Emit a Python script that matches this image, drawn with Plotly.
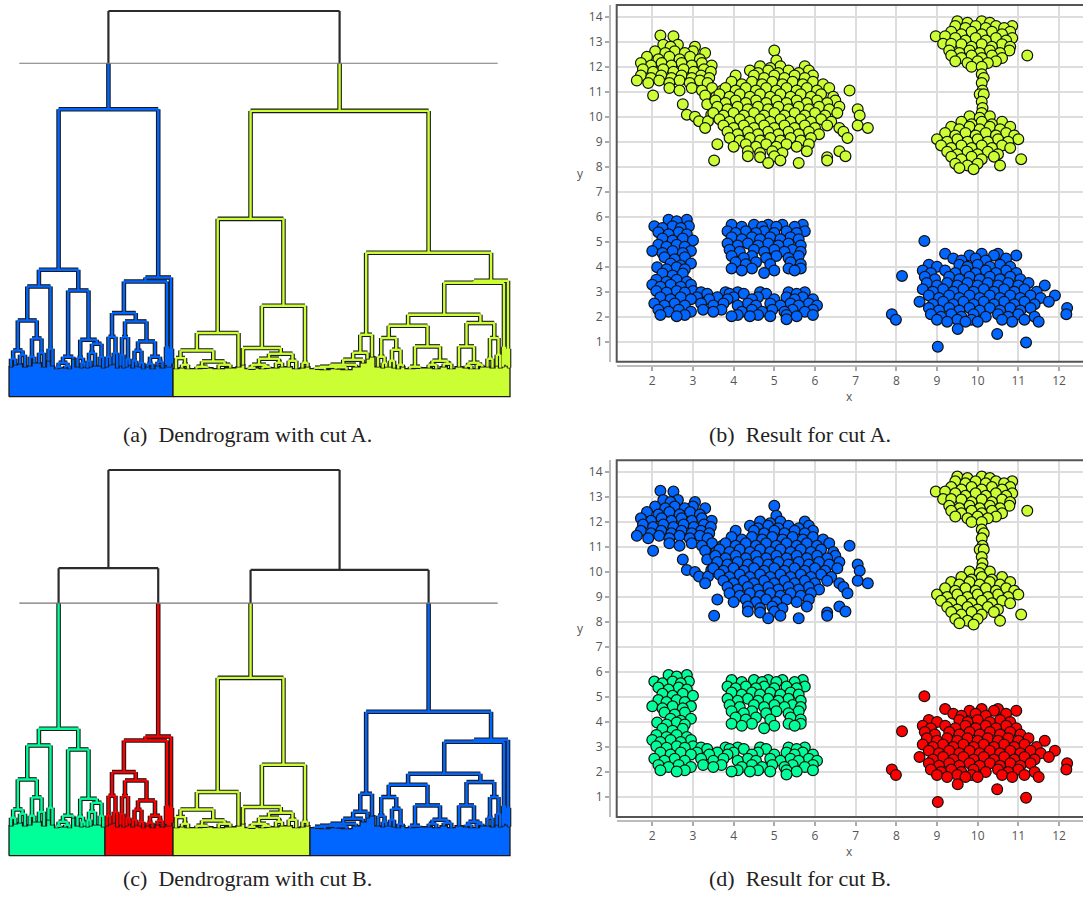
import plotly.graph_objects as go

W, H = 1083, 904

# ---------------- colours / cuts ----------------
BLUE = "#0066FF"
YELLOW = "#CCFF33"
GREEN = "#00FF99"
RED = "#FF0000"

CUT_A = 333.7
CUT_B = 252.7
PALETTE_A = [BLUE, YELLOW]
PALETTE_B = [GREEN, RED, YELLOW, BLUE]


# ---------------- dendrogram data ----------------
# node = ("n", merge height, left, right) ; leaf group = ("l", observation count, top height)
def N(h, a, b):
    return ("n", h, a, b)


def L(c, h):
    return ("l", c, h)


ROOT_HEIGHT = 386.0
LEFT_HEIGHT = 287.7
RIGHT_HEIGHT = 286.0

GREEN_TREE = N(127,
               N(110.3,
                 N(76.3,
                   N(46.3, N(38, L(8, 30), L(9, 32)), N(42, L(10, 33), L(10, 30))),
                   N(58.3, N(40, L(9, 31), L(9, 34)), N(44, L(10, 34), L(10, 30)))),
                 N(48, L(8, 36), L(8, 31))),
               N(106.3,
                 N(40, N(34, N(30, L(8, 28), L(9, 29)), N(31, L(9, 29), L(8, 28))), L(7, 38)),
                 N(57,
                   N(39, L(10, 30), N(34, L(6, 29), L(6, 30))),
                   N(53, N(44, N(36, L(6, 29), L(6, 30)), L(12, 31)), N(40, L(7, 31), L(7, 29))))))

RED_TREE = N(119.3,
             N(115.3,
               N(83.7,
                 N(60, N(40, L(7, 30), L(7, 32)), N(44, L(7, 33), L(7, 29))),
                 N(75.3,
                   N(59.7, N(42, L(6, 31), L(6, 29)), N(38, L(6, 30), L(6, 32))),
                   N(55.3,
                     N(46, N(36, L(7, 29), L(7, 31)), N(34, L(7, 30), L(7, 28))),
                     N(40, N(33, L(10, 30), L(10, 28)), N(35, L(10, 31), L(10, 29)))))),
               N(50, L(4, 32), L(4, 30))),
             N(48, L(4, 30), L(4, 33)))

YELLOW_TREE = N(178,
                N(63.7,
                  N(46.3,
                    N(38.7, L(12, 28), N(32, L(12, 29), L(12, 28))),
                    N(35.3, N(30, L(22, 28), L(22, 29)), N(32, L(23, 28), L(23, 29)))),
                  L(10, 30)),
                N(91,
                  N(48.7, L(8, 32),
                    N(43,
                      N(38,
                        N(32, N(29, L(14, 28), L(14, 29)), N(30, L(14, 28), L(14, 29))),
                        N(34, L(12, 29), L(12, 30))),
                      N(36, L(15, 30), L(15, 28)))),
                  N(34, L(10, 29), L(10, 30))))

BLUE_TREE = N(144,
              N(62,
                N(44, N(37, N(32, N(30, N(29, L(20, 28), L(20, 27)), N(29.5, L(22, 28), L(22, 27))),
                                  L(16, 30)), L(12, 34)), L(6, 38)),
                L(12, 40)),
              N(116,
                N(114,
                  N(82,
                    N(71,
                      N(58.7,
                        N(40, L(12, 30), N(34, L(7, 29), L(7, 30))),
                        N(47, N(36, L(8, 30), L(8, 29)), N(32, L(9, 28), L(9, 30)))),
                      N(50.3,
                        N(30, L(20, 28), L(20, 29)),
                        N(36, N(32, L(15, 29), L(15, 28)), N(33, L(15, 30), L(15, 28))))),
                    N(73.7,
                      N(50.3, L(16, 30), N(34, N(31, L(11, 29), L(11, 28)), N(32, L(11, 28), L(11, 30)))),
                      N(58.7, N(38, L(10, 30), L(10, 29)), N(42, L(7, 31), L(7, 29))))),
                  N(50, L(4, 30), L(4, 32))),
                N(48, L(4, 31), L(4, 29))))

# ---------------- scatter data (rows: y, list of x) ----------------
TL_ROWS = [
    # small upper-left lobe
    (13.25, [2.2]), (13.22, [2.52]), (12.88, [2.27, 2.63]), (12.8, [2.45, 3.05]),
    (12.62, [2.07, 2.55, 3.0]), (12.55, [2.32, 2.8, 3.3]), (12.4, [1.87, 2.42, 2.93]),
    (12.3, [2.15, 2.67, 3.17]), (12.15, [1.72, 2.23, 2.72, 3.22]), (12.05, [1.97, 2.47, 2.97, 3.46]),
    (11.9, [1.77, 2.27, 2.77, 3.27]), (11.8, [2.02, 2.52, 3.02, 3.44]),
    (11.65, [1.72, 2.22, 2.72, 3.2]), (11.55, [1.97, 2.47, 2.97, 3.4]),
    (11.45, [1.62, 2.17, 2.67, 3.17]), (11.35, [1.9, 2.42, 2.92, 3.36]),
    (11.15, [2.42, 2.97, 3.47]), (11.05, [2.67, 3.22, 3.72]), (10.85, [2.02, 3.3]), (10.8, [3.57]),
    (10.5, [2.75, 3.35]), (10.08, [2.85, 3.45]), (10.0, [3.05]), (9.82, [3.15, 3.37]), (9.55, [3.3]),
    # large lobe
    (12.65, [5.0]), (12.25, [5.05]), (12.02, [4.65, 5.15, 5.75]), (11.95, [4.9]),
    (11.85, [4.4, 4.85, 5.35, 5.85]), (11.75, [4.6, 5.1, 5.6]),
    (11.65, [4.05, 4.5, 5.0, 5.5, 5.95]), (11.55, [4.75, 5.25, 5.75]),
    (11.4, [3.95, 4.45, 4.95, 5.45, 5.95]), (11.3, [4.2, 4.7, 5.2, 5.7, 6.2]),
    (11.15, [3.8, 4.3, 4.8, 5.3, 5.8, 6.35]), (11.05, [4.05, 4.55, 5.05, 5.55, 6.05, 6.85]),
    (10.9, [3.65, 4.15, 4.65, 5.15, 5.65, 6.15]), (10.8, [3.9, 4.4, 4.9, 5.4, 5.9, 6.45]),
    (10.65, [3.55, 4.05, 4.55, 5.05, 5.55, 6.05, 6.5]), (10.55, [3.8, 4.3, 4.8, 5.3, 5.8, 6.3]),
    (10.4, [3.6, 4.1, 4.6, 5.1, 5.6, 6.1, 6.6]), (10.3, [3.85, 4.35, 4.85, 5.35, 5.85, 6.35, 7.05]),
    (10.15, [3.5, 4.0, 4.5, 5.0, 5.5, 6.0, 6.55]), (10.05, [3.75, 4.25, 4.75, 5.25, 5.75, 6.25, 7.1]),
    (9.9, [3.65, 4.15, 4.65, 5.15, 5.65, 6.15]), (9.8, [3.9, 4.4, 4.9, 5.4, 5.9, 6.4]),
    (9.65, [3.75, 4.25, 4.75, 5.25, 5.75, 6.3, 7.05]), (9.55, [4.0, 4.5, 5.0, 5.5, 6.0, 6.6, 7.3]),
    (9.4, [3.85, 4.35, 4.85, 5.35, 5.85, 6.7]), (9.3, [4.1, 4.6, 5.1, 5.6, 6.1]),
    (9.15, [3.9, 4.4, 4.9, 5.4, 5.9, 6.8]), (9.05, [4.15, 4.65, 5.15, 5.65]),
    (8.9, [3.6, 4.3, 4.8, 5.3, 5.85]), (8.8, [4.0, 4.55, 5.05, 5.55]),
    (8.62, [4.35, 4.95, 5.8, 6.6]), (8.55, [4.65, 5.2]), (8.42, [4.35, 5.0, 6.75]),
    (8.38, [4.65, 6.3]), (8.25, [3.52, 5.15, 6.3]), (8.15, [4.85, 5.6]),
]

TR_ROWS = [
    (13.82, [9.5, 10.1]), (13.76, [9.75, 10.3]), (13.63, [9.45, 9.95, 10.45, 10.85]),
    (13.55, [9.7, 10.2, 10.65]), (13.4, [9.35, 9.85, 10.35, 10.8]), (13.3, [9.6, 10.1, 10.6]),
    (13.22, [8.97, 9.2]), (13.15, [9.45, 9.95, 10.45, 10.85]), (13.05, [9.7, 10.2, 10.7]),
    (12.92, [9.15, 9.35]), (12.9, [9.6, 10.1, 10.6]), (12.8, [9.85, 10.35, 10.8]),
    (12.65, [9.3, 9.8, 10.3, 10.78]), (12.55, [9.55, 10.05, 10.55]),
    (12.45, [9.35, 9.85, 10.35, 11.22]), (12.35, [9.6, 10.1, 10.6]),
    (12.22, [9.45, 10.0, 10.45]), (12.15, [9.75, 10.25]), (12.0, [9.85, 10.1]),
    (11.7, [10.1]), (11.55, [10.15]), (11.35, [10.1]), (11.05, [10.12]),
    (10.9, [10.05, 10.15]), (10.6, [10.1]), (10.35, [10.12]), (10.15, [10.1]),
    (10.02, [9.8, 10.3]), (9.96, [10.05]), (9.8, [9.6, 10.1, 10.6]), (9.7, [9.85, 10.35]),
    (9.6, [9.35, 9.8, 10.3, 10.8]), (9.5, [9.55, 10.05, 10.55]),
    (9.35, [9.2, 9.7, 10.2, 10.7]), (9.25, [9.45, 9.95, 10.45, 10.9]),
    (9.1, [9.0, 9.5, 10.0, 10.5, 11.0]), (9.0, [9.25, 9.75, 10.25, 10.75]),
    (8.85, [9.1, 9.6, 10.1, 10.6]), (8.75, [9.35, 9.85, 10.35, 10.8]),
    (8.6, [9.25, 9.75, 10.25]), (8.5, [9.5, 10.0, 10.5]), (8.4, [9.35, 9.85, 10.4]),
    (8.3, [9.6, 10.1, 11.07]), (8.12, [9.45, 10.0]), (8.05, [9.75, 10.55]),
    (7.95, [9.55]), (7.9, [9.9]),
]

BL_ROWS = [
    (5.88, [2.4, 2.85]), (5.82, [2.6]), (5.68, [3.95, 4.5, 4.85, 5.2, 5.7]), (5.6, [4.2, 4.7, 5.05, 5.5]),
    (5.62, [2.05, 2.5, 2.9]), (5.55, [2.25, 2.7]), (5.42, [3.85, 4.3, 4.75, 5.3, 5.75]),
    (5.35, [4.05, 4.55, 5.0, 5.55]), (5.38, [2.15, 2.65]), (5.3, [2.4, 2.85]),
    (5.18, [3.95, 4.45, 4.9, 5.4]), (5.1, [4.2, 4.65, 5.15, 5.6]), (5.13, [2.25, 2.75]), (5.05, [2.5, 3.0]),
    (4.93, [3.85, 4.35, 4.85, 5.35]), (4.85, [4.1, 4.6, 5.1, 5.65]), (4.88, [2.15, 2.6]), (4.8, [2.35, 2.8]),
    (4.68, [3.9, 4.5, 5.0, 5.45]), (4.6, [4.15, 4.75, 5.25, 5.65]), (4.63, [2.0, 2.5, 2.95]),
    (4.55, [2.25, 2.75]), (4.43, [3.95, 4.45, 5.05, 5.6]), (4.35, [4.25, 4.8, 5.35]),
    (4.38, [2.3, 2.8]), (4.3, [2.55]), (4.18, [4.05, 4.55, 5.4]), (4.1, [4.3, 4.9, 5.65]),
    (4.13, [2.45, 2.95]), (4.05, [2.7]), (3.98, [2.12, 2.6]), (3.9, [2.35, 2.8]),
    (3.93, [3.95, 4.45, 5.35, 5.65]), (3.85, [4.2, 5.0, 5.5]), (3.75, [4.75]),
    (3.73, [2.25, 2.75]), (3.65, [2.5]), (3.48, [2.1, 2.6]), (3.4, [2.35, 2.85]),
    (3.28, [2.0, 2.45, 2.95]), (3.2, [2.2, 2.7]), (3.03, [2.1, 2.6, 3.0]), (2.97, [2.35, 2.8]),
    (2.98, [3.2, 3.8, 4.1, 4.65, 5.35, 5.75]), (2.92, [3.35, 3.9, 4.25, 4.8, 5.55]),
    (2.78, [2.2, 2.7, 3.1, 3.6, 4.0, 4.6, 5.3, 5.7]), (2.7, [2.45, 2.95, 3.4, 3.85, 4.45, 5.0, 5.5, 5.95]),
    (2.53, [2.05, 2.55, 3.2, 3.75, 4.35, 4.9, 5.4, 5.85]), (2.45, [2.3, 2.8, 3.5, 4.1, 4.55, 5.15, 5.6, 6.05]),
    (2.28, [2.15, 2.65, 3.25, 3.7, 4.45, 4.95, 5.45, 5.95]), (2.2, [2.4, 2.95, 3.5, 4.2, 4.7, 5.25, 5.75]),
    (2.07, [2.2, 2.8, 4.1, 4.6, 5.3, 5.95]), (2.02, [2.6, 3.95, 4.4, 4.9, 5.55]), (1.9, [5.3]),
]

BR_ROWS = [
    (5.03, [8.69]), (4.52, [9.2, 10.1, 10.5]), (4.45, [9.8, 10.4, 10.95]),
    (4.33, [9.4, 9.95, 10.7]), (4.25, [9.6, 10.2]),
    (4.08, [8.8, 9.55, 10.0, 10.55]), (4.0, [9.0, 9.75, 10.3, 10.8]),
    (3.85, [8.65, 9.2, 9.7, 10.2, 10.7]), (3.75, [8.85, 9.45, 9.95, 10.45, 10.95]), (3.63, [8.14]),
    (3.6, [8.7, 9.3, 9.8, 10.3, 10.8]), (3.5, [8.95, 9.55, 10.05, 10.55, 11.05]),
    (3.35, [8.75, 9.25, 9.75, 10.25, 10.75, 11.25]), (3.25, [9.0, 9.5, 10.0, 10.5, 11.0, 11.65]),
    (3.1, [8.65, 9.15, 9.65, 10.15, 10.65, 11.15]), (3.0, [8.9, 9.4, 9.9, 10.4, 10.9, 11.45]),
    (2.85, [8.8, 9.3, 9.8, 10.3, 10.8, 11.3, 11.9]), (2.75, [9.05, 9.55, 10.05, 10.55, 11.05, 11.55]),
    (2.6, [8.57, 9.15, 9.65, 10.15, 10.65, 11.15, 11.75]), (2.5, [8.9, 9.4, 9.9, 10.4, 10.9, 11.4]),
    (2.35, [8.8, 9.3, 9.8, 10.3, 10.8, 11.3, 12.2]), (2.25, [9.05, 9.55, 10.05, 10.55, 11.05]),
    (2.1, [7.89, 8.85, 9.35, 9.9, 10.5, 11.0, 12.18]), (2.0, [9.1, 9.6, 10.2, 10.75, 11.4]),
    (1.88, [7.99, 9.0, 9.5, 9.85, 10.6, 11.15]), (1.8, [9.25, 9.7, 10.0, 10.85, 11.5]),
    (1.51, [9.51]), (1.31, [10.48]), (0.97, [11.19]), (0.8, [9.02]),
]

COLORS_CUT_A = {"TL": YELLOW, "TR": YELLOW, "BL": BLUE, "BR": BLUE}
COLORS_CUT_B = {"TL": BLUE, "TR": YELLOW, "BL": GREEN, "BR": RED}
GROUPS = {"TL": TL_ROWS, "TR": TR_ROWS, "BL": BL_ROWS, "BR": BR_ROWS}

CAPTIONS = ["(a)  Dendrogram with cut A.", "(b)  Result for cut A.",
            "(c)  Dendrogram with cut B.", "(d)  Result for cut B."]

X_TICKS = list(range(2, 13))
Y_TICKS = list(range(1, 15))

# ---------------- helpers ----------------
TREE = N(ROOT_HEIGHT, N(LEFT_HEIGHT, GREEN_TREE, RED_TREE), N(RIGHT_HEIGHT, YELLOW_TREE, BLUE_TREE))


def layout_tree(node, start, cut, palette, state, out, color=None):
    if node[0] == "l":
        c, h = node[1], node[2]
        out["rects"].append((start, start + c, h, color))
        return start + c / 2.0, h, start + c, color
    h = node[1]
    if color is None and h < cut:
        color = palette[state["k"]]
        state["k"] += 1
    xa, ha, e1, ca = layout_tree(node[2], start, cut, palette, state, out, color)
    xb, hb, e2, cb = layout_tree(node[3], e1, cut, palette, state, out, color)
    if h < cut:
        out["col"].append(((xa, h), (xb, h), color))
    else:
        out["blk"].append(((xa, h), (xb, h)))
    for xc, hc, cc in ((xa, ha, ca), (xb, hb, cb)):
        if hc >= cut:
            out["blk"].append(((xc, hc), (xc, h)))
        elif h <= cut:
            out["col"].append(((xc, hc), (xc, h), cc))
        else:
            out["col"].append(((xc, hc), (xc, cut), cc))
            out["blk"].append(((xc, cut), (xc, h)))
    return (xa + xb) / 2.0, h, e2, color


def dendro_traces(cut, palette, xa, ya):
    out = {"rects": [], "col": [], "blk": []}
    layout_tree(TREE, 0.0, cut, palette, {"k": 0}, out)
    traces = []
    # skyline polygon of the dense leaf groups, one per cluster
    for col in palette:
        rs = [r for r in out["rects"] if r[3] == col]
        xs, ys = [rs[0][0]], [0]
        for x0, x1, h, _ in rs:
            xs += [x0, x1]
            ys += [h, h]
        xs += [rs[-1][1], rs[0][0]]
        ys += [0, 0]
        traces.append(go.Scatter(x=xs, y=ys, mode="lines", fill="toself", fillcolor=col,
                                 line=dict(color="#1a1a1a", width=1.3), hoverinfo="skip",
                                 xaxis=xa, yaxis=ya, showlegend=False))
    oxs, oys = [], []
    for (p, q, c) in out["col"]:
        oxs += [p[0], q[0], None]
        oys += [p[1], q[1], None]
    traces.append(go.Scatter(x=oxs, y=oys, mode="lines", line=dict(color="#1a1a1a", width=4.6),
                             hoverinfo="skip", xaxis=xa, yaxis=ya, showlegend=False))
    for col in palette:
        xs, ys = [], []
        for (p, q, c) in out["col"]:
            if c == col:
                xs += [p[0], q[0], None]
                ys += [p[1], q[1], None]
        traces.append(go.Scatter(x=xs, y=ys, mode="lines", line=dict(color=col, width=2.4),
                                 hoverinfo="skip", xaxis=xa, yaxis=ya, showlegend=False))
    bxs, bys = [], []
    for (p, q) in out["blk"]:
        bxs += [p[0], q[0], None]
        bys += [p[1], q[1], None]
    traces.append(go.Scatter(x=bxs, y=bys, mode="lines", line=dict(color="#2b2b2b", width=2.2),
                             hoverinfo="skip", xaxis=xa, yaxis=ya, showlegend=False))
    return traces


def scatter_traces(colors, xa, ya):
    traces = []
    for key in ["BL", "BR", "TL", "TR"]:
        xs, ys = [], []
        for y, row in GROUPS[key]:
            for x in row:
                xs.append(x)
                ys.append(y)
        traces.append(go.Scatter(x=xs, y=ys, mode="markers", xaxis=xa, yaxis=ya,
                                 marker=dict(size=10.8, color=colors[key],
                                             line=dict(color="#111111", width=1.2)),
                                 hoverinfo="skip", showlegend=False))
    return traces


fig = go.Figure()
for t in dendro_traces(CUT_A, PALETTE_A, "x", "y"):
    fig.add_trace(t)
for t in scatter_traces(COLORS_CUT_A, "x2", "y2"):
    fig.add_trace(t)
for t in dendro_traces(CUT_B, PALETTE_B, "x3", "y3"):
    fig.add_trace(t)
for t in scatter_traces(COLORS_CUT_B, "x4", "y4"):
    fig.add_trace(t)

TOTAL = 1002


def px_x(p):
    return p / W


def px_y(p):
    return 1 - p / H


dendro_x = dict(domain=[px_x(4), px_x(515)], range=[-10, TOTAL + 10], visible=False)


def dendro_y(top, bottom):
    return dict(domain=[px_y(bottom), px_y(top)], range=[-4.3, 392], visible=False)


tickfont = dict(family="Open Sans", size=12, color="#555555")


def scat_x(off):
    return dict(domain=[px_x(616.7), 1.0], range=[1.125, 12.59], anchor="free",
                position=px_y(365.7 + off), tickvals=X_TICKS, ticks="outside", ticklen=4,
                tickcolor="#aaaaaa", tickwidth=1.5, showline=True, linecolor="#bbbbbb",
                linewidth=2, showgrid=True, gridcolor="#dddddd", gridwidth=1.6,
                zeroline=False, tickfont=tickfont)


def scat_y(off):
    return dict(domain=[px_y(361.7 + off), px_y(5 + off)], range=[0.2, 14.47], anchor="free",
                position=px_x(610), tickvals=Y_TICKS, ticks="outside", ticklen=4,
                tickcolor="#aaaaaa", tickwidth=1.5, showline=True, linecolor="#bbbbbb",
                linewidth=2, showgrid=True, gridcolor="#dddddd", gridwidth=1.6,
                zeroline=False, tickfont=tickfont)


OFF_D = 455.3
OFF_C = 459.0

shapes = []
for xr, yr, cut in (("x", "y", CUT_A), ("x3", "y3", CUT_B)):
    shapes.append(dict(type="line", xref=xr + " domain", yref=yr, x0=(19.3 - 4) / 511,
                       x1=(497.7 - 4) / 511, y0=cut, y1=cut,
                       line=dict(color="#777777", width=1.2)))
for xr, yr in (("x2", "y2"), ("x4", "y4")):
    shapes.append(dict(type="rect", xref=xr + " domain", yref=yr + " domain", x0=0, x1=1.02,
                       y0=0, y1=1, line=dict(color="#555555", width=2)))

annotations = []
cap_pos = [(247, 435), (800, 435), (247, 878), (800, 878)]
for text, (cx, cy) in zip(CAPTIONS, cap_pos):
    annotations.append(dict(text=text, x=px_x(cx), y=px_y(cy), xref="paper", yref="paper",
                            showarrow=False, xanchor="center", yanchor="middle",
                            font=dict(family="Liberation Serif", size=22, color="#222222")))
for off in (0, OFF_D):
    annotations.append(dict(text="y", x=px_x(580), y=px_y(173 + off), xref="paper", yref="paper",
                            showarrow=False, xanchor="center", yanchor="middle",
                            font=dict(family="Open Sans", size=12, color="#555555")))
    annotations.append(dict(text="x", x=px_x(850), y=px_y(396 + off), xref="paper", yref="paper",
                            showarrow=False, xanchor="center", yanchor="middle",
                            font=dict(family="Open Sans", size=12, color="#555555")))

fig.update_layout(
    width=W, height=H, margin=dict(l=0, r=0, t=0, b=0),
    paper_bgcolor="white", plot_bgcolor="white",
    xaxis=dendro_x, yaxis=dendro_y(5, 401),
    xaxis2=scat_x(0), yaxis2=scat_y(0),
    xaxis3=dict(dendro_x), yaxis3=dendro_y(5 + OFF_C, 401 + OFF_C),
    xaxis4=scat_x(OFF_D), yaxis4=scat_y(OFF_D),
    shapes=shapes, annotations=annotations, showlegend=False,
)

fig.write_html("out.html")
